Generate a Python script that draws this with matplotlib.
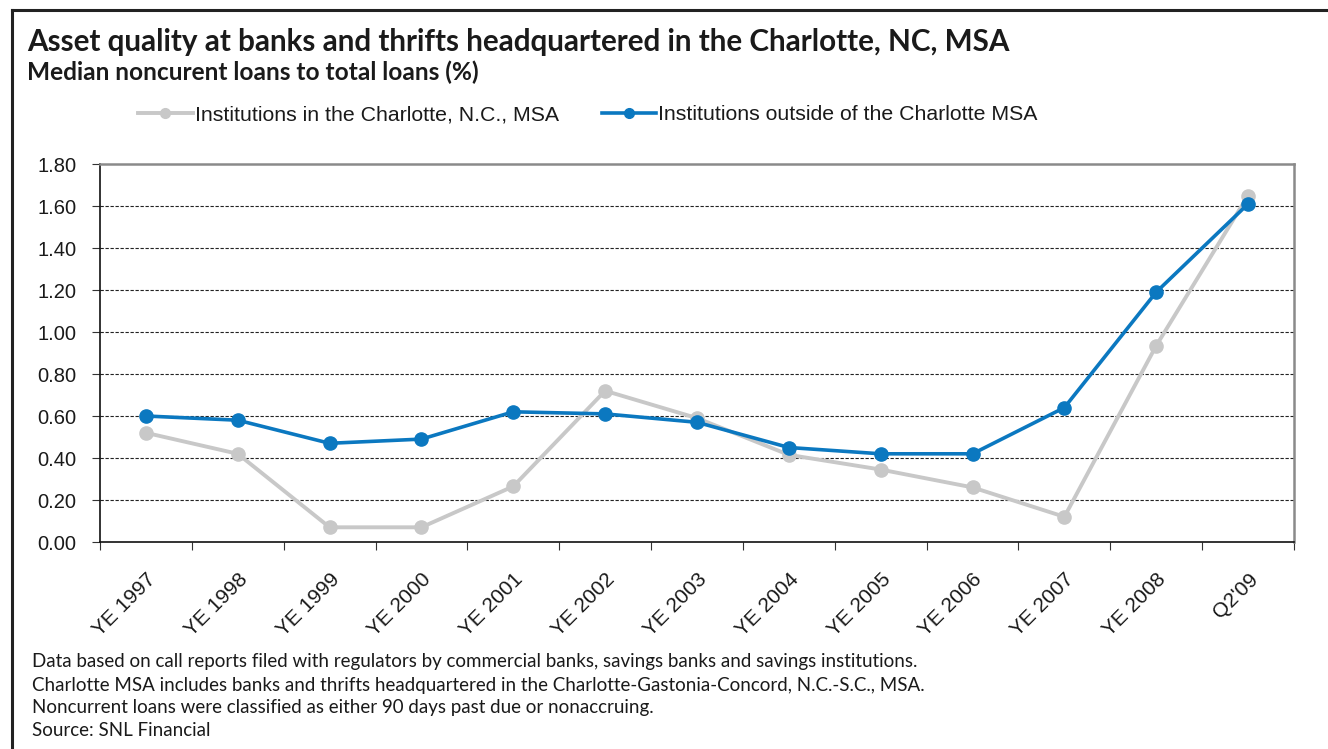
import numpy as np
import matplotlib
matplotlib.use("Agg")
import matplotlib.pyplot as plt
from matplotlib.lines import Line2D

# data
categories = ["YE 1997", "YE 1998", "YE 1999", "YE 2000", "YE 2001", "YE 2002",
              "YE 2003", "YE 2004", "YE 2005", "YE 2006", "YE 2007", "YE 2008", "Q2'09"]
charlotte = [0.52, 0.42, 0.07, 0.07, 0.265, 0.72, 0.59, 0.415, 0.345, 0.26, 0.12, 0.935, 1.65]
outside = [0.60, 0.58, 0.47, 0.49, 0.62, 0.61, 0.57, 0.45, 0.42, 0.42, 0.64, 1.19, 1.61]
yticks = [0.0, 0.2, 0.4, 0.6, 0.8, 1.0, 1.2, 1.4, 1.6, 1.8]

title = "Asset quality at banks and thrifts headquartered in the Charlotte, NC, MSA"
subtitle = "Median noncurent loans to total loans (%)"
notes = ["Data based on call reports filed with regulators by commercial banks, savings banks and savings institutions.",
         "Charlotte MSA includes banks and thrifts headquartered in the Charlotte-Gastonia-Concord, N.C.-S.C., MSA.",
         "Noncurrent loans were classified as either 90 days past due or nonaccruing.",
         "Source: SNL Financial"]

GRAY = "#c8c8c8"
BLUE = "#0b78c0"
W, H = 1328, 749

fig = plt.figure(figsize=(W / 100, H / 100), dpi=100)
ax = fig.add_axes([100 / W, 1 - 542 / H, (1294 - 100) / W, (542 - 164) / H])

x = np.arange(len(categories))
ax.plot(x, charlotte, color=GRAY, lw=2.8, marker="o", ms=9.5, zorder=3)
ax.plot(x, outside, color=BLUE, lw=2.6, marker="o", ms=9.5, zorder=4)

ax.set_xlim(-0.5, len(categories) - 0.5)
ax.set_ylim(0, 1.8)
ax.set_yticks(yticks)
ax.set_yticklabels(["%.2f" % v for v in yticks], fontsize=14.5, family="Liberation Sans",
                   color="#1a1a1a")
ax.set_xticks(x)
ax.set_xticklabels(categories, rotation=45, ha="right", rotation_mode="anchor",
                   fontsize=15, family="Liberation Sans", color="#1a1a1a")
ax.tick_params(axis="x", which="major", length=0, pad=20)
ax.set_xticks(np.arange(-0.5, len(categories)), minor=True)
ax.tick_params(axis="x", which="minor", length=6, width=0.8, color="#333333")
ax.tick_params(axis="y", length=6, width=0.8, color="#333333", pad=11)

for v in yticks[1:-1]:
    ax.axhline(v, color="#222222", lw=0.8, ls=(0, (3, 1.5)), zorder=1)

for s in ["left", "bottom"]:
    ax.spines[s].set_color("#111111")
    ax.spines[s].set_linewidth(1.2)
for s in ["top", "right"]:
    ax.spines[s].set_color("#8a8a8a")
    ax.spines[s].set_linewidth(1.8)

# legend
handles = [Line2D([], [], color=GRAY, lw=2.8, marker="o", ms=7),
           Line2D([], [], color=BLUE, lw=2.6, marker="o", ms=7)]
fig.legend(handles, ["Institutions in the Charlotte, N.C., MSA",
                     "Institutions outside of the Charlotte MSA"],
           loc="center", bbox_to_anchor=(588 / W, 1 - 115 / H), ncol=2, frameon=False,
           prop={"family": "Liberation Sans", "size": 15.3}, handlelength=2.55,
           handletextpad=0.12, columnspacing=2.0, labelcolor="#1a1a1a")

# titles
fig.text(27 / W, 1 - 42 / H, title, fontsize=21.3, fontweight="bold", family="Lato",
         va="center", color="#1a1a1a")
fig.text(27 / W, 1 - 72 / H, subtitle, fontsize=17.6, fontweight="bold", family="Lato",
         va="center", color="#1a1a1a")

for i, line in enumerate(notes):
    fig.text(32 / W, 1 - (662 + 23 * i) / H, line, fontsize=13.5, family="Lato",
             va="center", color="#1a1a1a")

# outer frame (top and left edges)
fig.add_artist(Line2D([12 / W, 1], [1 - 10 / H, 1 - 10 / H], color="#222222", lw=2.2))
fig.add_artist(Line2D([12 / W, 12 / W], [1 - 10 / H, 0], color="#222222", lw=2.2))

fig.savefig("out.png", dpi=100)
